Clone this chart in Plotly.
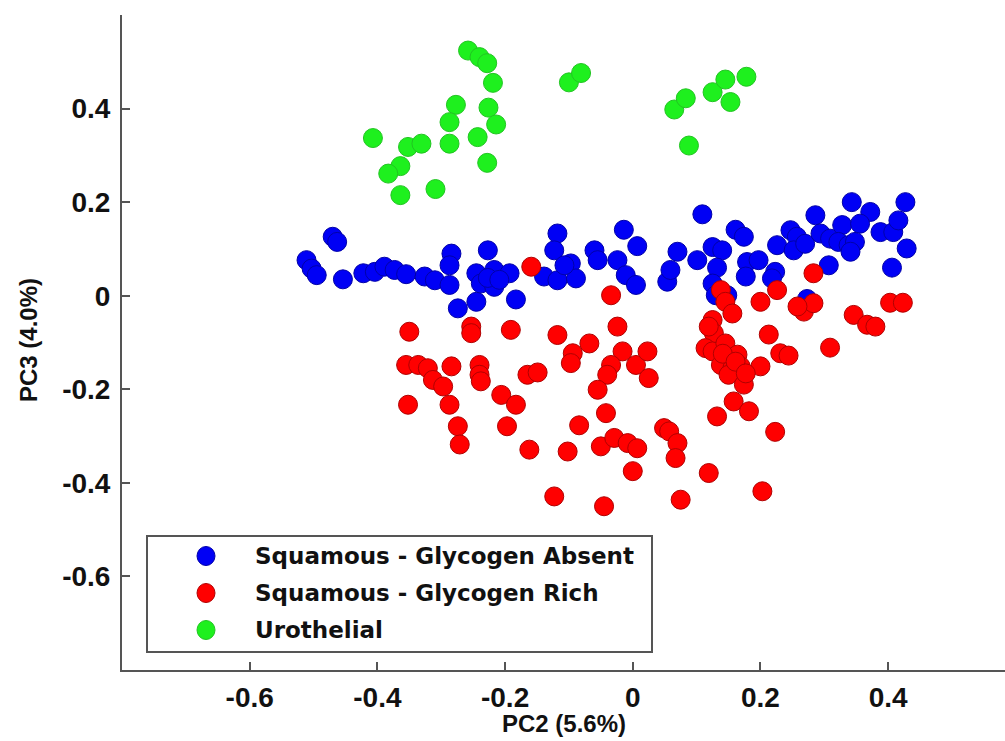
import plotly.graph_objects as go

# ---------------- data ----------------
series_names = ["Squamous - Glycogen Absent", "Squamous - Glycogen Rich", "Urothelial"]
series_colors = ["#0000F5", "#FF0000", "#1EF01E"]
series_edges = ["#0000A8", "#B00000", "#22C422"]

absent_x = [-0.511, -0.503, -0.495, -0.470, -0.463, -0.454, -0.422, -0.404, -0.389, -0.373,
            -0.355, -0.326, -0.310, -0.287, -0.284, -0.287, -0.227, -0.245, -0.217, -0.193,
            -0.238, -0.217, -0.245, -0.274, -0.183, -0.227, -0.209, -0.118, -0.123, -0.139,
            -0.118, -0.097, -0.089, -0.107, -0.060, -0.055, -0.014, 0.007, -0.024, -0.011,
            0.005, 0.054, 0.070, 0.059, 0.109, 0.101, 0.125, 0.140, 0.132, 0.125,
            0.148, 0.130, 0.161, 0.174, 0.179, 0.177, 0.197, 0.223, 0.218, 0.226,
            0.247, 0.257, 0.252, 0.270, 0.286, 0.294, 0.309, 0.328, 0.322, 0.338,
            0.348, 0.341, 0.343, 0.372, 0.356, 0.388, 0.408, 0.416, 0.427, 0.429,
            0.406, 0.307, 0.273]
absent_y = [0.076, 0.058, 0.044, 0.126, 0.115, 0.035, 0.048, 0.051, 0.062, 0.055,
            0.046, 0.041, 0.033, 0.023, 0.090, 0.065, 0.097, 0.048, 0.055, 0.048,
            0.026, 0.019, -0.013, -0.027, -0.008, 0.038, 0.034, 0.133, 0.097, 0.041,
            0.033, 0.069, 0.037, 0.065, 0.097, 0.076, 0.141, 0.106, 0.076, 0.044,
            0.023, 0.030, 0.094, 0.055, 0.174, 0.076, 0.104, 0.097, 0.060, 0.026,
            0.001, 0.001, 0.141, 0.126, 0.072, 0.041, 0.076, 0.051, 0.037, 0.108,
            0.140, 0.126, 0.097, 0.111, 0.172, 0.133, 0.122, 0.151, 0.115, 0.108,
            0.115, 0.094, 0.200, 0.179, 0.154, 0.136, 0.136, 0.161, 0.200, 0.101,
            0.060, 0.065, -0.007]

rich_x = [-0.159, -0.034, -0.024, -0.350, -0.253, -0.253, -0.191, -0.118, -0.094, -0.097,
          -0.068, -0.016, 0.005, -0.034, -0.040, -0.055, -0.042, -0.084, -0.050, -0.029,
          -0.008, 0.007, 0.000, -0.102, -0.162, -0.123, -0.045, -0.355, -0.336, -0.321,
          -0.313, -0.297, -0.284, -0.240, -0.240, -0.238, -0.165, -0.149, -0.206, -0.183,
          -0.352, -0.287, -0.274, -0.271, -0.197, 0.023, 0.025, 0.049, 0.138, 0.145,
          0.156, 0.226, 0.200, 0.283, 0.268, 0.283, 0.258, 0.403, 0.423, 0.346,
          0.367, 0.380, 0.213, 0.309, 0.125, 0.127, 0.114, 0.125, 0.145, 0.164,
          0.138, 0.156, 0.169, 0.150, 0.174, 0.200, 0.231, 0.244, 0.158, 0.182,
          0.132, 0.223, 0.057, 0.070, 0.067, 0.119, 0.075, 0.203, 0.119, 0.141,
          0.161, 0.177]
rich_y = [0.062, 0.001, -0.066, -0.077, -0.066, -0.080, -0.073, -0.084, -0.123, -0.144,
          -0.102, -0.119, -0.148, -0.148, -0.169, -0.201, -0.251, -0.277, -0.322, -0.304,
          -0.315, -0.326, -0.375, -0.333, -0.329, -0.429, -0.450, -0.148, -0.148, -0.155,
          -0.180, -0.194, -0.151, -0.148, -0.169, -0.183, -0.169, -0.164, -0.212, -0.233,
          -0.233, -0.233, -0.279, -0.318, -0.279, -0.119, -0.176, -0.283, 0.012, -0.013,
          -0.038, 0.012, -0.013, 0.048, -0.034, -0.016, -0.023, -0.015, -0.015, -0.041,
          -0.062, -0.066, -0.083, -0.111, -0.052, -0.080, -0.112, -0.119, -0.102, -0.126,
          -0.148, -0.155, -0.151, -0.169, -0.190, -0.151, -0.123, -0.128, -0.226, -0.247,
          -0.258, -0.291, -0.290, -0.315, -0.347, -0.379, -0.436, -0.418, -0.066, -0.124,
          -0.141, -0.166]

uro_x = [-0.258, -0.240, -0.228, -0.219, -0.277, -0.226, -0.287, -0.214, -0.407, -0.352,
         -0.331, -0.287, -0.243, -0.364, -0.383, -0.364, -0.309, -0.228, -0.100, -0.081,
         0.065, 0.083, 0.125, 0.145, 0.178, 0.153, 0.088]
uro_y = [0.524, 0.510, 0.497, 0.455, 0.408, 0.402, 0.371, 0.366, 0.337, 0.318,
         0.325, 0.325, 0.339, 0.277, 0.261, 0.215, 0.228, 0.284, 0.456, 0.476,
         0.398, 0.422, 0.435, 0.462, 0.468, 0.414, 0.321]

x_ticks = [-0.6, -0.4, -0.2, 0, 0.2, 0.4]
x_tick_text = ["-0.6", "-0.4", "-0.2", "0", "0.2", "0.4"]
y_ticks = [-0.6, -0.4, -0.2, 0, 0.2, 0.4]
y_tick_text = ["-0.6", "-0.4", "-0.2", "0", "0.2", "0.4"]
x_title = "PC2 (5.6%)"
y_title = "PC3 (4.0%)"

# ---------------- figure ----------------
W, H = 1005, 741
ML, MR, MT, MB = 122, 0, 15, 71
PW, PH = W - ML - MR, H - MT - MB


def px_to_paper(px, py):
    return (px - ML) / PW, (H - MB - py) / PH


fig = go.Figure()
all_series = [(absent_x, absent_y), (rich_x, rich_y), (uro_x, uro_y)]
for (xs, ys), name, col, edge in zip(all_series, series_names, series_colors, series_edges):
    fig.add_trace(go.Scatter(
        x=xs, y=ys, mode="markers", name=name, showlegend=False,
        marker=dict(size=19, color=col, line=dict(color=edge, width=1)),
    ))

axis_col = "#555555"
tick_font = dict(family="Liberation Sans, Arial, sans-serif", size=28, color="#111111", weight="bold")

fig.update_xaxes(
    range=[-0.8, 0.583], tickvals=x_ticks, ticktext=x_tick_text,
    showgrid=False, zeroline=False, showline=True, linecolor=axis_col, linewidth=2,
    ticks="inside", ticklen=8, tickcolor=axis_col, tickwidth=1.5,
    tickfont=tick_font, ticklabelstandoff=1,
)
fig.update_yaxes(
    range=[-0.8, 0.6], tickvals=y_ticks, ticktext=y_tick_text,
    showgrid=False, zeroline=False, showline=True, linecolor=axis_col, linewidth=2,
    ticks="inside", ticklen=8, tickcolor=axis_col, tickwidth=1.5,
    tickfont=tick_font, ticklabelstandoff=4,
)

title_font = dict(family="Liberation Sans, Arial, sans-serif", size=24, color="#111111", weight="bold")
annotations = []
tx, ty = px_to_paper(564, 723)
annotations.append(dict(text=x_title, x=tx, y=ty, xref="paper", yref="paper",
                        showarrow=False, xanchor="center", yanchor="middle", font=title_font))
tx, ty = px_to_paper(28, 340)
annotations.append(dict(text=y_title, x=tx, y=ty, xref="paper", yref="paper", textangle=-90,
                        showarrow=False, xanchor="center", yanchor="middle", font=title_font))

# legend box (drawn manually to match the reference's layout)
shapes = []
lx0, ly0 = px_to_paper(147, 652)
lx1, ly1 = px_to_paper(652, 536)
shapes.append(dict(type="rect", xref="paper", yref="paper", x0=lx0, x1=lx1, y0=ly0, y1=ly1,
                   line=dict(color=axis_col, width=2), fillcolor="white", layer="above"))
legend_font = dict(family="DejaVu Sans, sans-serif", size=23, color="#111111", weight="bold")
row_y = [556, 593, 630]
for name, col, edge, ry in zip(series_names, series_colors, series_edges, row_y):
    mx, my = px_to_paper(206, ry)
    shapes.append(dict(type="circle", xref="paper", yref="paper", xsizemode="pixel", ysizemode="pixel",
                       xanchor=mx, yanchor=my, x0=-9, x1=9, y0=-9.5, y1=9.5,
                       fillcolor=col, line=dict(color=edge, width=1), layer="above"))
    tx, ty = px_to_paper(253, ry)
    annotations.append(dict(text=name, x=tx, y=ty, xref="paper", yref="paper", showarrow=False,
                            xanchor="left", yanchor="middle", font=legend_font))

fig.update_layout(
    width=W, height=H, margin=dict(l=ML, r=MR, t=MT, b=MB),
    plot_bgcolor="white", paper_bgcolor="white",
    annotations=annotations, shapes=shapes, showlegend=False,
)

fig.write_html("out.html")
